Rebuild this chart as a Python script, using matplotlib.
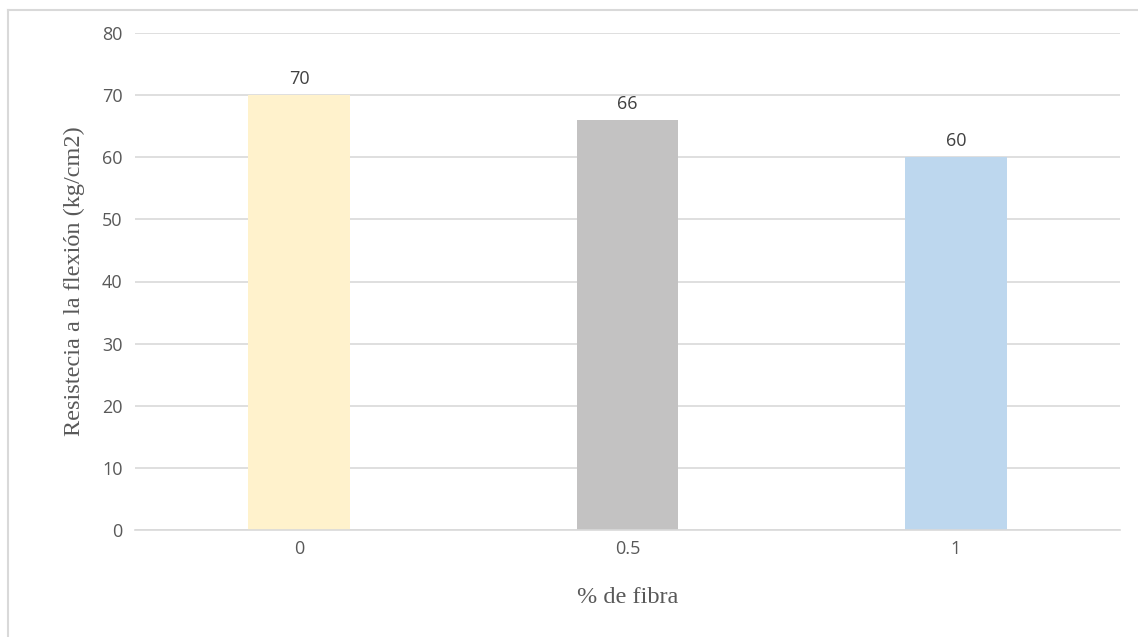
import matplotlib
matplotlib.use("Agg")
import matplotlib.pyplot as plt
from matplotlib.lines import Line2D

categories = ["0", "0.5", "1"]
values = [70, 66, 60]
bar_colors = ["#FFF2CC", "#C3C2C2", "#BDD7EE"]
y_ticks = [0, 10, 20, 30, 40, 50, 60, 70, 80]

W, H = 1138, 637
fig = plt.figure(figsize=(W / 100, H / 100), dpi=100)
fig.patch.set_facecolor("white")

# chart frame (left and top edges visible)
fig.add_artist(Line2D([8 / W, 8 / W], [0, 1 - 10 / H], transform=fig.transFigure,
                      color="#D9D9D9", lw=1.5))
fig.add_artist(Line2D([8 / W, 1], [1 - 10 / H, 1 - 10 / H], transform=fig.transFigure,
                      color="#D9D9D9", lw=1.5))

ax = fig.add_axes([135 / W, (H - 530) / H, (1120 - 135) / W, (530 - 33) / H])
x = range(len(categories))
bars = ax.bar(x, values, width=0.31, color=bar_colors, zorder=3)

ax.set_xlim(-0.5, len(categories) - 0.5)
ax.set_ylim(0, 80)
ax.set_yticks(y_ticks)
ax.set_xticks(list(x))
ax.set_xticklabels(categories)

ax.grid(axis="y", color="#D9D9D9", lw=1.2, zorder=0)
for s in ["top", "right", "left"]:
    ax.spines[s].set_visible(False)
ax.spines["bottom"].set_color("#D9D9D9")
ax.spines["bottom"].set_linewidth(1.2)
ax.spines["bottom"].set_zorder(4)
ax.tick_params(axis="both", length=0, labelsize=13, colors="#595959")
ax.tick_params(axis="y", pad=9)
ax.tick_params(axis="x", pad=7)
for lab in ax.get_xticklabels() + ax.get_yticklabels():
    lab.set_fontfamily("Open Sans")

for b, v in zip(bars, values):
    ax.text(b.get_x() + b.get_width() / 2, v + 1.2, f"{v}", ha="center", va="bottom",
            fontsize=13, color="#404040", family="Open Sans")

ax.set_ylabel("Resistecia a la flexión (kg/cm2)", family="Liberation Serif",
              fontsize=17.5, color="#595959", labelpad=12)
ax.set_xlabel("% de fibra", family="Liberation Serif", fontsize=17.5,
              color="#595959", labelpad=21)

fig.savefig("out.png", dpi=100, facecolor="white")
